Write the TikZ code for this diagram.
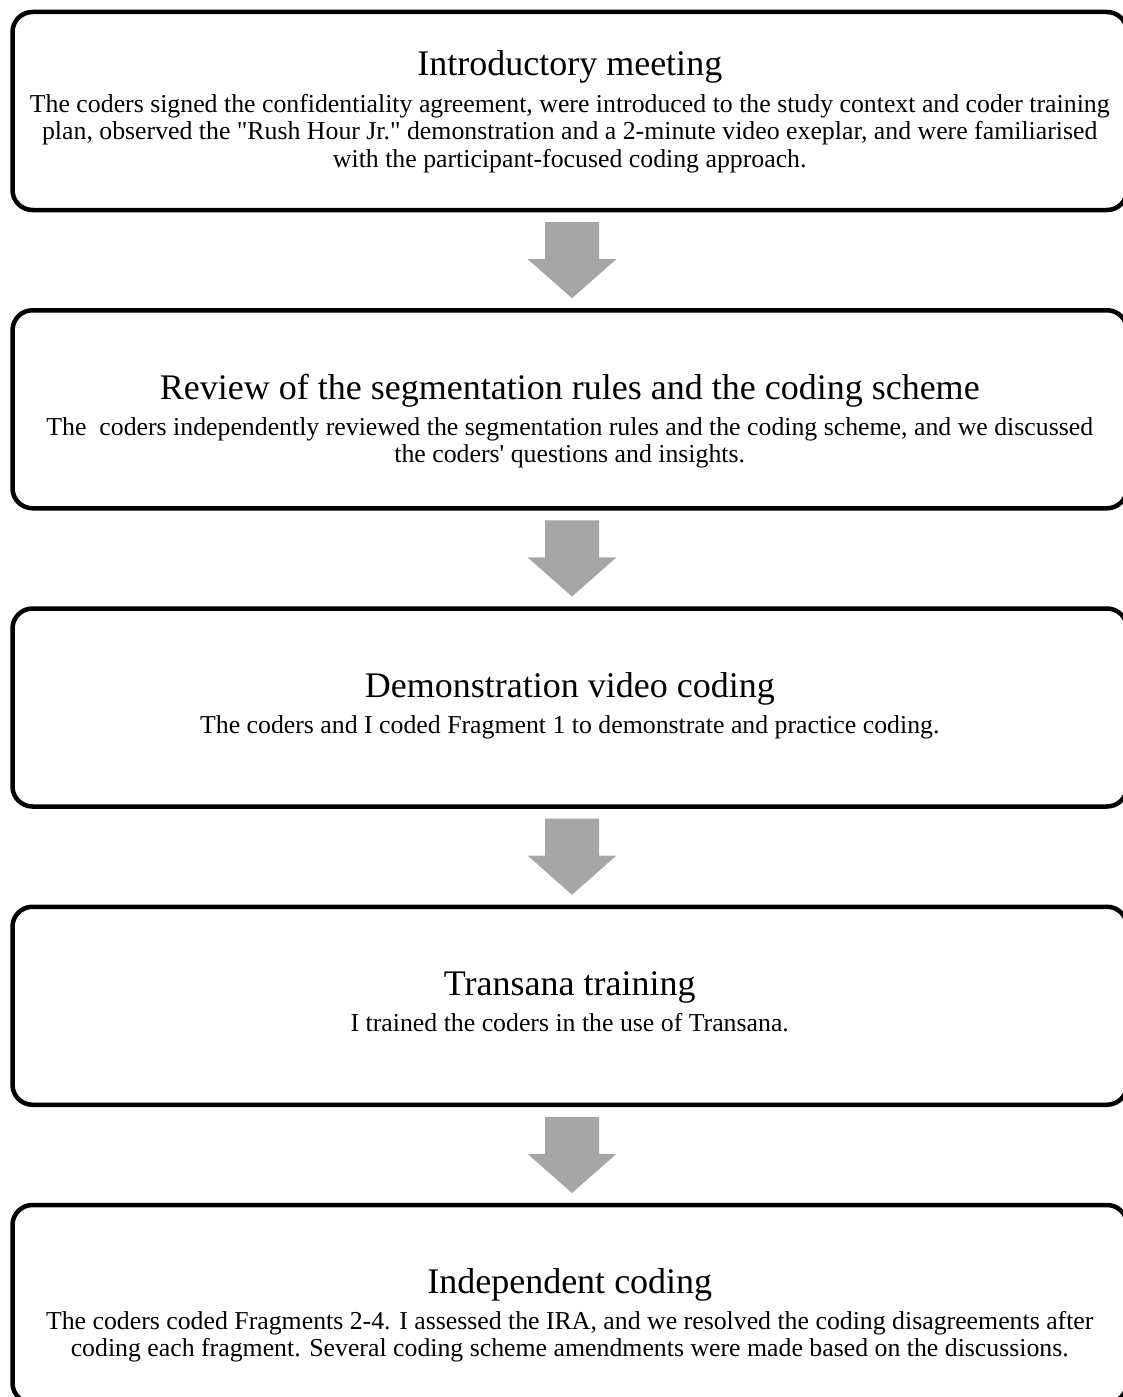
\documentclass[tikz,border=0pt]{standalone}
\usepackage{fontspec}
\usetikzlibrary{calc}
% Serif face without TeX ligature mapping, so quotes stay straight
\newfontfamily\stagefont{Liberation Serif}
\definecolor{arrowgray}{HTML}{A6A6A6}
\newcommand\headsize{\fontsize{36pt}{40pt}\selectfont\spaceskip=.25em\relax}
\newcommand\textsize{\fontsize{25.8pt}{27.6pt}\selectfont\spaceskip=.25em\relax}
% Description lines, baseline at the first line
\newcommand\stagelines[1]{\begin{tabular}[t]{@{}c@{}}#1\end{tabular}}
% Grey block arrow from the bottom of one stage to the top of the next
\newcommand\stagearrow[2]{%
  \fill[flowarrow] ($(#1.south)+(-24.75,12)$) -- ($(#1.south)+(29.25,12)$)
    -- ($(#1.south)+(29.25,49)$) -- ($(#1.south)+(46.75,49)$)
    -- ($(#2.north)+(2.25,-12)$)
    -- ($(#1.south)+(-42.25,49)$) -- ($(#1.south)+(-24.75,49)$) -- cycle;}
\tikzset{
  stagebox/.style={draw=black, line width=4.5pt, rounded corners=20pt,
    minimum width=1114.5pt, minimum height=198pt, inner sep=0pt, outer sep=0pt},
  headtext/.style={anchor=base, inner sep=0pt, font=\stagefont\headsize},
  bodytext/.style={anchor=base, inner sep=0pt, font=\stagefont\textsize},
  flowarrow/.style={fill=arrowgray}
}
\begin{document}
\begin{tikzpicture}[x=1pt, y=-1pt]
\useasboundingbox (0,0) rectangle (1123,1397);

% stage boxes
\node[stagebox] (b1) at (569.75,111) {};
\node[stagebox] (b2) at (569.75,409.25) {};
\node[stagebox] (b3) at (569.75,707.5) {};
\node[stagebox] (b4) at (569.75,1005.75) {};
\node[stagebox] (b5) at (569.75,1304) {};

% headings
\node[headtext] (h1) at ($(b1.north)+(0,63)$) {Introductory meeting};
\node[headtext] (h2) at ($(b2.north)+(0,89)$) {Review of the segmentation rules and the coding scheme};
\node[headtext] (h3) at ($(b3.north)+(0,88.5)$) {Demonstration video coding};
\node[headtext] (h4) at ($(b4.north)+(0,88.5)$) {Transana training};
\node[headtext] (h5) at ($(b5.north)+(0,88)$) {Independent coding};

% descriptions
\node[bodytext] (d1) at ($(h1.base)+(0,37)$) {\stagelines{The coders signed the confidentiality agreement, were introduced to the study context and coder training\\ plan, observed the "Rush Hour Jr." demonstration and a 2-minute video exeplar, and were familiarised\\ with the participant-focused coding approach.}};
\node[bodytext] (d2) at ($(h2.base)+(0,36)$) {\stagelines{The\ \ coders independently reviewed the segmentation rules and the coding scheme, and we discussed\\ the coders' questions and insights.}};
\node[bodytext] (d3) at ($(h3.base)+(0,36)$) {\stagelines{The coders and I coded Fragment 1 to demonstrate and practice coding.}};
\node[bodytext] (d4) at ($(h4.base)+(0,36)$) {\stagelines{I trained the coders in the use of Transana.}};
\node[bodytext] (d5) at ($(h5.base)+(0,36)$) {\stagelines{The coders coded Fragments 2-4. I assessed the IRA, and we resolved the coding disagreements after\\ coding each fragment. Several coding scheme amendments were made based on the discussions.}};

% connecting arrows
\stagearrow{b1}{b2}
\stagearrow{b2}{b3}
\stagearrow{b3}{b4}
\stagearrow{b4}{b5}
\end{tikzpicture}
\end{document}
